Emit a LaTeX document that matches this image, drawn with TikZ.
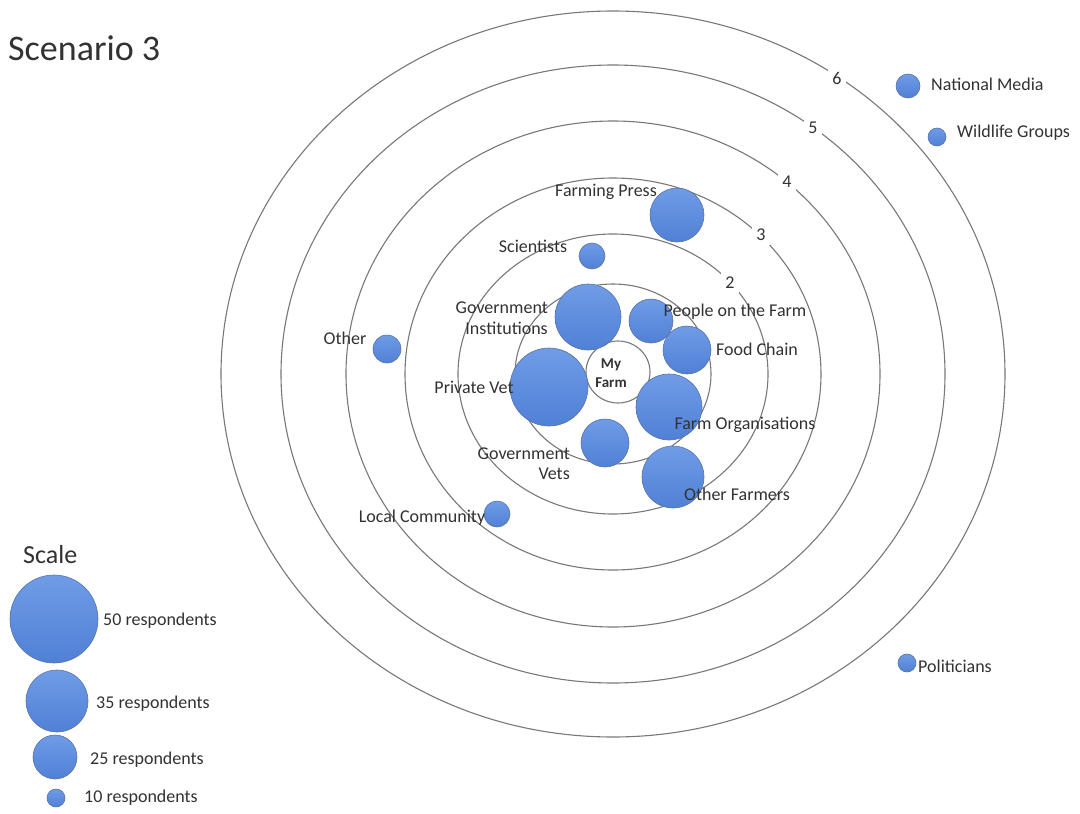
\documentclass[tikz,border=0pt]{standalone}
\usepackage{fontspec}
\setmainfont{Carlito}
\definecolor{ringgray}{RGB}{120,120,120}
\definecolor{bubtop}{RGB}{112,156,230}
\definecolor{bubbot}{RGB}{80,128,214}
\definecolor{bubedge}{RGB}{88,115,165}
\definecolor{txtgray}{RGB}{50,50,50}
\begin{document}
\begin{tikzpicture}[x=1pt,y=-1pt,
  ring/.style={draw=ringgray, line width=1.1pt},
  bub/.style={circle, inner sep=0pt, draw=bubedge, line width=0.6pt, top color=bubtop, bottom color=bubbot},
  lbl/.style={text=txtgray, font=\fontsize{18}{21}\selectfont, inner sep=0pt},
  num/.style={fill=white, text=txtgray, font=\fontsize{18}{21}\selectfont, inner sep=4pt}]
\useasboundingbox[fill=white] (0,0) rectangle (1080,814);
% rings
\coordinate (c) at (613,374);
\draw[ring] (c) ellipse [x radius=392pt, y radius=363pt];
\draw[ring] (c) ellipse [x radius=332pt, y radius=309pt];
\draw[ring] (c) ellipse [x radius=267pt, y radius=253pt];
\draw[ring] (c) ellipse [x radius=208pt, y radius=196pt];
\draw[ring] (c) ellipse [x radius=155pt, y radius=140pt];
\draw[ring] (c) ellipse [x radius=98pt, y radius=90pt];
\draw[ring] (618,372) ellipse [x radius=32pt, y radius=31pt];
% ring numbers
\node[num] (n6) at (837,78) {6};
\node[num] (n5) at (813,128) {5};
\node[num] (n4) at (787,182) {4};
\node[num] (n3) at (761,235) {3};
\node[num] (n2) at (730,283) {2};
% bubbles
\node[bub, minimum size=54pt] (bpress) at (677,215) {};
\node[bub, minimum size=26pt] (bsci) at (592,256) {};
\node[bub, minimum size=66pt] (bginst) at (588,317) {};
\node[bub, minimum size=44pt] (bpeople) at (651,321) {};
\node[bub, minimum size=48pt] (bfood) at (687,350) {};
\node[bub, minimum size=78pt] (bpvet) at (549,387) {};
\node[bub, minimum size=66pt] (bforg) at (669,407) {};
\node[bub, minimum size=48pt] (bgvets) at (605,443) {};
\node[bub, minimum size=62pt] (bofarm) at (673,477) {};
\node[bub, minimum size=26pt] (blocal) at (497,514) {};
\node[bub, minimum size=28pt] (bother) at (387,349) {};
\node[bub, minimum size=24pt] (bmedia) at (908,86) {};
\node[bub, minimum size=18pt] (bwild) at (937,137) {};
\node[bub, minimum size=18pt] (bpol) at (907,663) {};
% labels
\node[lbl] (tmy) at (611,373) [font=\bfseries\fontsize{15}{19}\selectfont, align=center] {My\\Farm};
\node[lbl] (tpress) at (606,192) {Farming Press};
\node[lbl] (tsci) at (533,246) {Scientists};
\node[lbl, anchor=east, align=right] (tginst) at (548,318) {Government\\Institutions};
\node[lbl] (tpeople) at (735,312) {People on the Farm};
\node[lbl] (tfood) at (757,349) {Food Chain};
\node[lbl] (tpvet) at (474,387) {Private Vet};
\node[lbl] (tforg) at (745,425) {Farm Organisations};
\node[lbl, anchor=east, align=right, font=\fontsize{18}{20}\selectfont] (tgvets) at (570,464) {Government\\Vets};
\node[lbl] (tofarm) at (737,494) {Other Farmers};
\node[lbl] (tlocal) at (422,518) {Local Community};
\node[lbl] (tother) at (345,338) {Other};
\node[lbl, anchor=west] (tmedia) at (931,84) {National Media};
\node[lbl, anchor=west] (twild) at (957,133) {Wildlife Groups};
\node[lbl, anchor=west] (tpol) at (918,666) {Politicians};
% title
\node[lbl, anchor=west, font=\fontsize{36}{40}\selectfont] (title) at (8,48) {Scenario 3};
% legend
\node[lbl, anchor=west, font=\fontsize{26}{30}\selectfont] (tscale) at (23,555) {Scale};
\node[bub, minimum size=88pt] (s50) at (54,619) {};
\node[bub, minimum size=62pt] (s35) at (57,701) {};
\node[bub, minimum size=44pt] (s25) at (55,757) {};
\node[bub, minimum size=18pt] (s10) at (56,798) {};
\node[lbl, anchor=west] (t50) at (103,621) {50 respondents};
\node[lbl, anchor=west] (t35) at (96,704) {35 respondents};
\node[lbl, anchor=west] (t25) at (90,760) {25 respondents};
\node[lbl, anchor=west] (t10) at (84,798) {10 respondents};
\end{tikzpicture}
\end{document}
